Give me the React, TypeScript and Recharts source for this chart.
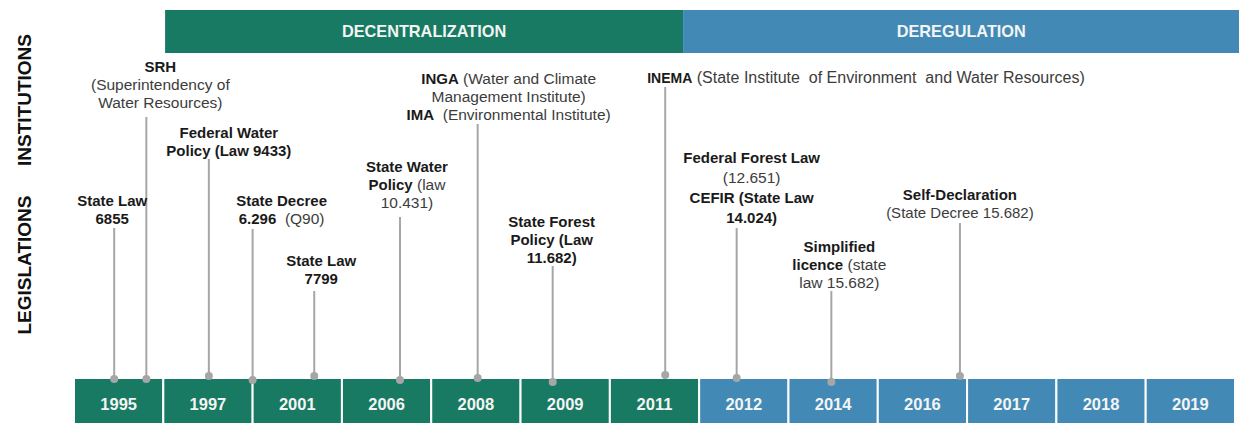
import { ComposedChart, XAxis, YAxis, Scatter, ReferenceArea, ReferenceLine, ReferenceDot } from 'recharts';

// year boxes along the bottom
const years = ['1995', '1997', '2001', '2006', '2008', '2009', '2011', '2012', '2014', '2016', '2017', '2018', '2019'];
const yearEra = [0, 0, 0, 0, 0, 0, 0, 1, 1, 1, 1, 1, 1];

// periods (in year-slot units)
const eraNames = ['DECENTRALIZATION', 'DEREGULATION'];
const eraStart = [1.02, 6.82];
const eraEnd = [6.82, 13.05];

// events: position on the timeline (year-slot units), height of the label stem, foot of the stem
const eventPos = [0.45, 0.81, 1.51, 2.0, 2.69, 3.65, 4.52, 5.36, 6.62, 7.42, 8.48, 9.92];
const eventTop = [150, 261, 219, 149, 87, 161, 254, 112, 291, 150, 87, 155];
const eventBase = [-1, -1, 2, -2, 2, -2, 0, -4, 3, 0, -4, 2];
const eventLabels = [
  ['**State Law**', '**6855**'],
  ['**SRH**', '(Superintendency of', 'Water Resources)'],
  ['**Federal Water**', '**Policy (Law 9433)**'],
  ['**State Decree**', '**6.296**  (Q90)'],
  ['**State Law**', '**7799**'],
  ['**State Water**', '**Policy** (law', '10.431)'],
  ['**INGA** (Water and Climate', 'Management Institute)', '**IMA**  (Environmental Institute)'],
  ['**State Forest**', '**Policy (Law**', '**11.682)**'],
  ['**INEMA** (State Institute  of Environment  and Water Resources)'],
  ['**Federal Forest Law**', '(12.651)', '**CEFIR (State Law**', '**14.024)**'],
  ['**Simplified**', '**licence** (state', 'law 15.682)'],
  ['**Self-Declaration**', '(State Decree 15.682)'],
];

// label layout
const labelDx = [-2, 14, 20, 29, 7, 7, 31, -1, -18, 15, 8, 0];
const labelAnchor = ['middle', 'middle', 'middle', 'middle', 'middle', 'middle', 'middle', 'middle', 'start', 'middle', 'middle', 'middle'];
const labelLineHeight = [18, 18, 18, 18, 18, 18, 18, 18, 18, 20, 18, 18];
const labelGap = [9, 14, 8, 10, 12, 14, 9, 8, 9, 10, 8.5, 10];
const boldSize = [15, 15, 15, 15, 15, 15, 15, 15, 14, 15, 15, 15];
const plainSize = [15.5, 15.5, 15.5, 15.5, 15.5, 15.5, 15.5, 15.5, 16, 15.5, 15.5, 15];

const GREEN = '#187a62';
const BLUE = '#428ab5';
const STEM = '#a6a6a6';
const eraColors = [GREEN, BLUE];

const points = eventPos.map((x, i) => ({ x, y: eventTop[i], i }));

const EventLabel = (props: any) => {
  const { cx, cy, payload } = props;
  const i = payload.i;
  const lines = eventLabels[i];
  const lh = labelLineHeight[i];
  return (
    <g>
      {lines.map((line, k) => {
        const center = cy - labelGap[i] - (lines.length - 1 - k) * lh;
        const parts = line.split('**');
        return (
          <text
            key={k}
            x={cx + labelDx[i]}
            y={center + 5.4}
            textAnchor={labelAnchor[i] as any}
            style={{ whiteSpace: 'pre' }}
          >
            {parts.map((p, j) =>
              p === '' ? null : (
                <tspan
                  key={j}
                  fontWeight={j % 2 === 1 ? 'bold' : 'normal'}
                  fontSize={j % 2 === 1 ? boldSize[i] : plainSize[i]}
                  fill={j % 2 === 1 ? '#1a1a1a' : '#3c3c3c'}
                >
                  {p}
                </tspan>
              )
            )}
          </text>
        );
      })}
    </g>
  );
};

const sideLabel = (text: string, top: number) => (
  <div
    style={{
      position: 'absolute',
      left: 25,
      top,
      transform: 'translate(-50%, -50%) rotate(-90deg)',
      fontSize: 19,
      fontWeight: 'bold',
      color: '#111',
      whiteSpace: 'nowrap',
    }}
  >
    {text}
  </div>
);

const PolicyTimeline = () => {
  return (
    <div
      style={{
        position: 'absolute',
        left: 0,
        top: 0,
        width: 1239,
        height: 423,
        overflow: 'hidden',
        fontFamily: '"Liberation Sans", Arial, sans-serif',
        background: '#fff',
      }}
    >
      <ComposedChart width={1239} height={431} margin={{ top: 10, right: 4, bottom: 0, left: 74 }}>
        <XAxis type="number" dataKey="x" domain={[0, 13]} hide allowDataOverflow />
        <YAxis type="number" dataKey="y" domain={[-53, 368]} hide allowDataOverflow />

        {eraNames.map((name, i) => (
          <ReferenceArea
            key={name}
            x1={eraStart[i]}
            x2={eraEnd[i]}
            y1={325}
            y2={368}
            fill={eraColors[i]}
            fillOpacity={1}
            stroke="none"
            ifOverflow="visible"
            label={{ value: name, position: 'center', fill: '#f4f4f4', fontSize: 16.3, fontWeight: 'bold' }}
          />
        ))}

        {years.map((year, i) => (
          <ReferenceArea
            key={year}
            x1={i}
            x2={i + 1}
            y1={-53}
            y2={0}
            fill={eraColors[yearEra[i]]}
            fillOpacity={1}
            stroke="#fff"
            strokeWidth={2}
            ifOverflow="visible"
            label={{ value: year, position: 'center', fill: '#f4f4f4', fontSize: 16.5, fontWeight: 'bold' }}
          />
        ))}

        {eventPos.map((x, i) => (
          <ReferenceLine
            key={`l${i}`}
            segment={[
              { x, y: eventBase[i] },
              { x, y: eventTop[i] },
            ]}
            stroke={STEM}
            strokeWidth={2}
          />
        ))}

        {eventPos.map((x, i) => (
          <ReferenceDot key={`d${i}`} x={x} y={eventBase[i]} r={4} fill={STEM} stroke="none" />
        ))}

        <Scatter data={points} shape={EventLabel} isAnimationActive={false} />
      </ComposedChart>
      {sideLabel('INSTITUTIONS', 100)}
      {sideLabel('LEGISLATIONS', 265)}
    </div>
  );
};

export default PolicyTimeline;
